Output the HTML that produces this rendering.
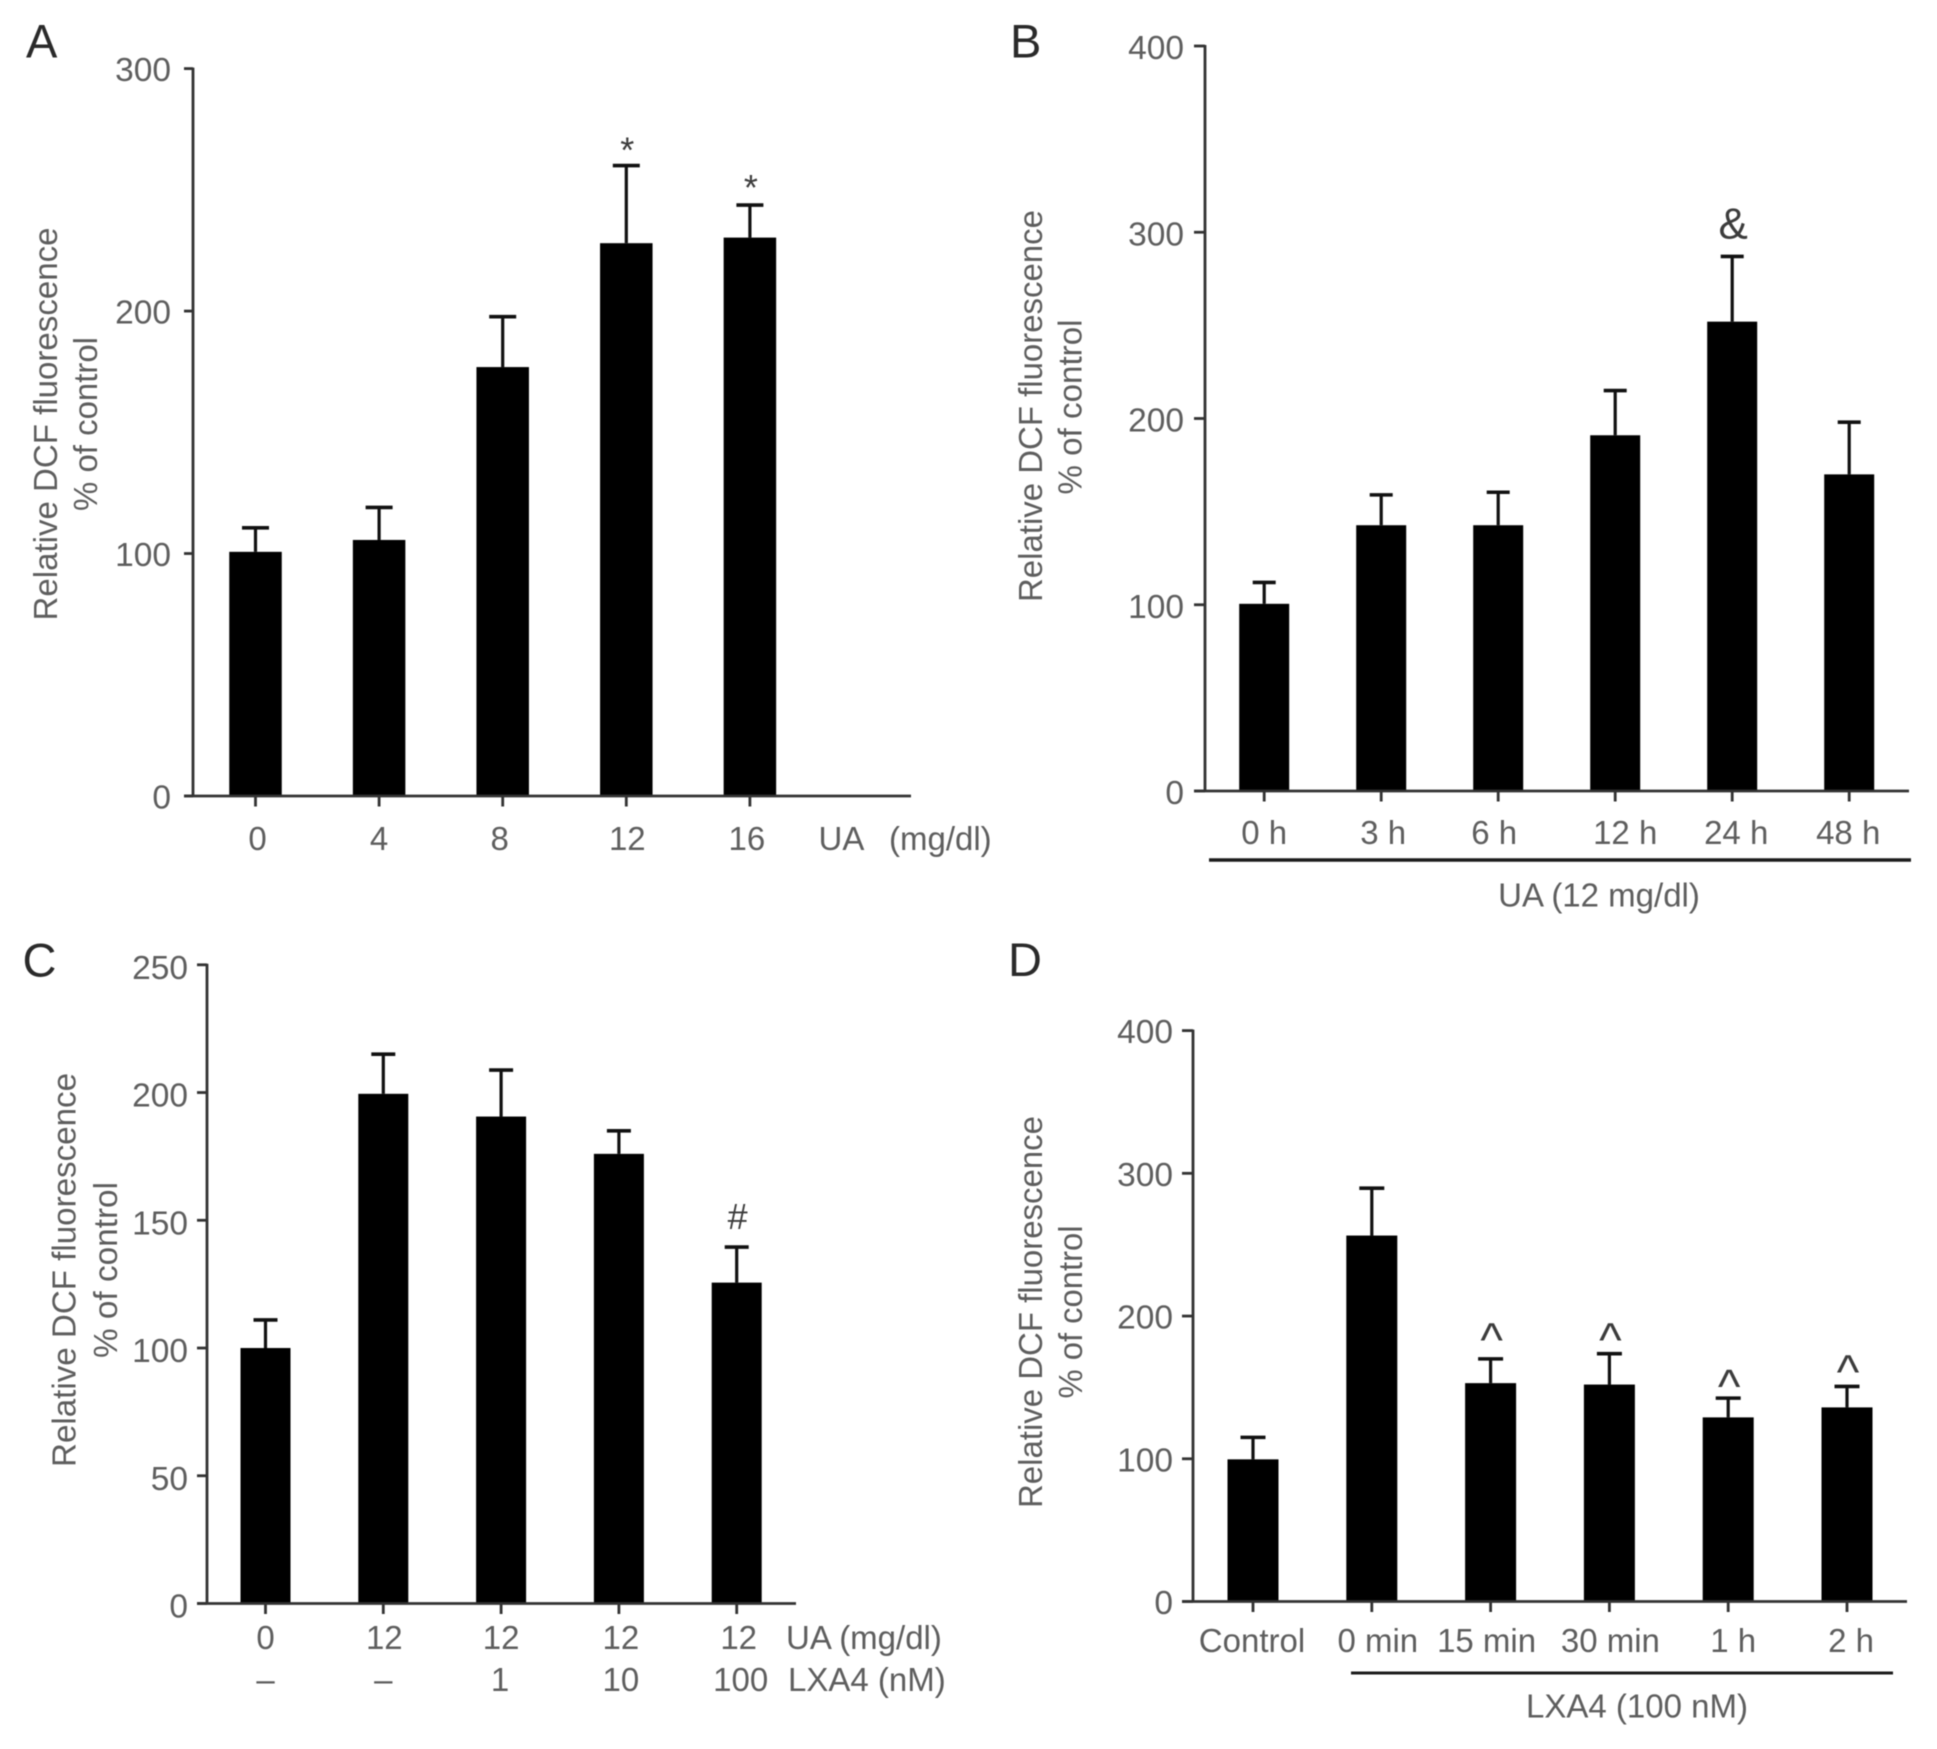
<!DOCTYPE html>
<html lang="en">
<head>
<meta charset="utf-8">
<title>Relative DCF fluorescence panels</title>
<style>
html,body{margin:0;padding:0;background:#fff;width:1937px;height:1749px;overflow:hidden}
svg{display:block;position:absolute;left:0;top:0;filter:blur(0.6px)}
text{font-family:"Liberation Sans",sans-serif;fill:#5e5e5e}
</style>
</head>
<body>
<svg id="figure" xmlns="http://www.w3.org/2000/svg" width="1937" height="1749" viewBox="0 0 1937 1749"></svg>
<script>
// ---------- Data ----------
const categoriesA = ['0', '4', '8', '12', '16'];
const valuesA = [100.7, 105.6, 176.9, 228, 230.3];
const errorTopsA = [110.6, 119, 197.7, 260, 243.7];
const marksA = ['', '', '', '*', '*'];
const ticksA = [0, 100, 200, 300];

const categoriesB = ['0 h', '3 h', '6 h', '12 h', '24 h', '48 h'];
const valuesB = [100.5, 142.7, 142.7, 191, 252, 170];
const errorTopsB = [112, 159, 160.4, 215, 287, 198];
const marksB = ['', '', '', '', '&', ''];
const ticksB = [0, 100, 200, 300, 400];

const categoriesC = ['0', '12', '12', '12', '12'];
const secondRowC = ['–', '–', '1', '10', '100'];
const valuesC = [100, 199.5, 190.6, 176, 125.6];
const errorTopsC = [111, 215, 208.8, 185, 139.5];
const marksC = ['', '', '', '', '#'];
const ticksC = [0, 50, 100, 150, 200, 250];

const categoriesD = ['Control', '0 min', '15 min', '30 min', '1 h', '2 h'];
const valuesD = [99.6, 256.4, 153, 152, 129, 136];
const errorTopsD = [115, 289.6, 170, 173.6, 142.5, 150.7];
const marksD = ['', '', '^', '^', '^', '^'];
const ticksD = [0, 100, 200, 300, 400];

// ---------- Panel geometry (layout only) ----------
const panels = [
  {id:'a', letter:'A', letterX:26, letterY:57.7, categories:categoriesA, values:valuesA, errorTops:errorTopsA, marks:marksA, ticks:ticksA,
   axisX:193, yTop:68.6, yZero:796, max:300, firstX:255.5, step:123.6, barW:52.5, capW:27, xEnd:911, tickLeft:184,
   tickDy:12.5, labelRight:171, labelY:850, nudge:[2,0,-3,1,-3],
   titleX:48.5, titleCy:424, titleLen:393, subX:88.5, subCy:424, subLen:174,
   markSize:36, markGaps:[0,0,0,3,5]},
  {id:'b', letter:'B', letterX:1010, letterY:57.7, categories:categoriesB, values:valuesB, errorTops:errorTopsB, marks:marksB, ticks:ticksB,
   axisX:1205, yTop:46, yZero:791, max:400, firstX:1264.2, step:117, barW:50, capW:23, xEnd:1909, tickLeft:1194,
   tickDy:13, labelRight:1184, labelY:844, nudge:[0,2,-4,10,4,-1],
   titleX:1033.5, titleCy:406, titleLen:392, subX:1072.6, subCy:407, subLen:175,
   markSize:44, markGaps:[0,0,0,0,18,0]},
  {id:'c', letter:'C', letterX:22.5, letterY:976.7, categories:categoriesC, values:valuesC, errorTops:errorTopsC, marks:marksC, ticks:ticksC,
   axisX:207, yTop:964.8, yZero:1603.5, max:250, firstX:265.5, step:117.8, barW:50, capW:24, xEnd:796, tickLeft:197,
   tickDy:14, labelRight:188, labelY:1649, nudge:[0,1,0,2,2],
   titleX:67, titleCy:1270, titleLen:394, subX:108.5, subCy:1270, subLen:176,
   markSize:36, markGaps:[0,0,0,0,18]},
  {id:'d', letter:'D', letterX:1008, letterY:975.9, categories:categoriesD, values:valuesD, errorTops:errorTopsD, marks:marksD, ticks:ticksD,
   axisX:1193, yTop:1030.6, yZero:1601.5, max:400, firstX:1253, step:118.8, barW:51, capW:25, xEnd:1907, tickLeft:1182,
   tickDy:12.5, labelRight:1173, labelY:1652, nudge:[-1,6,-4,1,5,4],
   titleX:1033.5, titleCy:1312, titleLen:392, subX:1073.5, subCy:1312, subLen:173,
   markSize:48, markGaps:[0,0,2.4,-2.6,-5,-2]}
];

const NS = 'http://www.w3.org/2000/svg';
const figure = document.getElementById('figure');

function shape(parent, tag, props) {
  const el = document.createElementNS(NS, tag);
  for (const k in props) el.setAttribute(k, props[k]);
  parent.appendChild(el);
  return el;
}
function label(parent, str, x, y, size, anchor, extra) {
  const el = shape(parent, 'text', Object.assign({x:x, y:y, 'font-size':size, 'text-anchor':anchor}, extra || {}));
  el.textContent = str;
  return el;
}
function rotatedLabel(parent, str, cx, cy, size, len) {
  const el = label(parent, str, 0, 0, size, 'middle', {
    transform:'translate(' + cx + ' ' + cy + ') rotate(-90)',
    textLength:len, lengthAdjust:'spacingAndGlyphs', 'dominant-baseline':'middle'
  });
  return el;
}

panels.forEach(function (p) {
  const yScale = function (v) { return p.yZero - v / p.max * (p.yZero - p.yTop); };
  const xScale = function (i) { return p.firstX + i * p.step; };

  const g = shape(figure, 'g', {});
  
  

  const letter = label(g, p.letter, p.letterX, p.letterY, 47, 'start', {style:'fill:#2a2a2a'});
  
  

  // bars and error bars
  p.values.forEach(function (v, i) {
    const cx = xScale(i);
    const errorTop = yScale(p.errorTops[i]);

    const stem = shape(g, 'line', {x1:cx, x2:cx, y1:errorTop, y2:yScale(v), stroke:'#111', 'stroke-width':3.2});
    
    

    const cap = shape(g, 'line', {x1:cx - p.capW / 2, x2:cx + p.capW / 2, y1:errorTop, y2:errorTop, stroke:'#111', 'stroke-width':3.6});
    
    

    const bar = shape(g, 'rect', {x:cx - p.barW / 2, y:yScale(v), width:p.barW, height:p.yZero - yScale(v), fill:'#000'});
    
    

    if (p.marks[i]) {
      const mark = label(g, p.marks[i], cx + 1, errorTop - p.markGaps[i], p.markSize, 'middle', {style:'fill:#3c3c3c'});
      
      
    }

    const xTick = shape(g, 'line', {x1:cx, x2:cx, y1:p.yZero, y2:p.yZero + 10.5, stroke:'#333', 'stroke-width':2.8});
    
    

    const xLabel = label(g, p.categories[i], cx + p.nudge[i], p.labelY, 33, 'middle');
    
    
  });

  // axes
  const yAxis = shape(g, 'line', {x1:p.axisX, x2:p.axisX, y1:p.yTop - 1, y2:p.yZero + 1, stroke:'#333', 'stroke-width':2.8});
  
  

  const xAxis = shape(g, 'line', {x1:p.tickLeft, x2:p.xEnd, y1:p.yZero, y2:p.yZero, stroke:'#333', 'stroke-width':2.8});
  
  

  p.ticks.forEach(function (t) {
    const tick = shape(g, 'line', {x1:p.tickLeft, x2:p.axisX, y1:yScale(t), y2:yScale(t), stroke:'#333', 'stroke-width':2.8});
    
    

    const tl = label(g, String(t), p.labelRight, yScale(t) + p.tickDy, 33.5, 'end');
    
    
  });

  // axis titles
  const title = rotatedLabel(g, 'Relative DCF fluorescence', p.titleX, p.titleCy, 33, p.titleLen);
  
  

  const sub = rotatedLabel(g, '% of control', p.subX, p.subCy, 33, p.subLen);
  
  
});

// ---------- Panel-specific annotations ----------
function note(str, x, y, name, anchor) {
  const el = label(figure, str, x, y, 33, anchor || 'start');
  
  
  return el;
}
function rule(x1, x2, y, name, width) {
  const el = shape(figure, 'line', {x1:x1, x2:x2, y1:y, y2:y, stroke:'#1c1c1c', 'stroke-width':width});
  
  
  return el;
}

note('UA', 818.5, 850, 'x-group-label-ua-a');
note('(mg/dl)', 889, 850, 'x-unit-label-a');

rule(1209, 1911, 860, 'treatment-bracket-b', 3.6);
note('UA (12 mg/dl)', 1599, 906.5, 'treatment-label-b', 'middle');

secondRowC.forEach(function (s, i) {
  const nudges = [0, 0, -1, 2, 4];
  const el = label(figure, s, 265.5 + i * 117.8 + nudges[i], 1691, 33, 'middle');
  
  
});
note('UA (mg/dl)', 786, 1649, 'x-group-label-ua-c');
note('LXA4 (nM)', 788, 1691, 'x-group-label-lxa4-c');

rule(1351, 1893, 1673, 'treatment-bracket-d', 3);
note('LXA4 (100 nM)', 1637, 1717.5, 'treatment-label-d', 'middle');
</script>
</body>
</html>
